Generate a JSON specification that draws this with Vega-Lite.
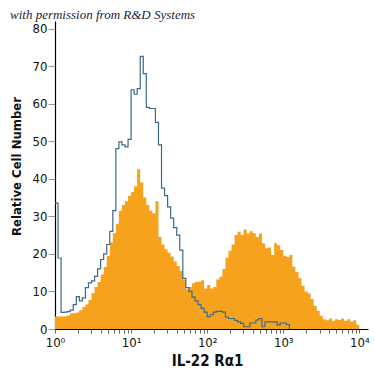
{
  "$schema": "https://vega.github.io/schema/vega-lite/v6.json",
  "width": 313,
  "height": 308,
  "autosize": "none",
  "padding": {"left": 55, "top": 21, "right": 7, "bottom": 46},
  "background": "white",
  "config": {"view": {"stroke": null}},
  "title": {
    "text": "with permission from R&D Systems",
    "anchor": "start",
    "frame": "group",
    "font": "Liberation Serif",
    "fontStyle": "italic",
    "fontWeight": "normal",
    "fontSize": 13,
    "color": "#1c1c3a",
    "dx": -45,
    "offset": -1
  },
  "datasets": {
    "orange": [
      {"x": 1, "n": 3.3}, {"x": 1.0965, "n": 3.3}, {"x": 1.2023, "n": 3.3}, {"x": 1.3183, "n": 3.4}, {"x": 1.4454, "n": 3.6},
      {"x": 1.5849, "n": 4.2}, {"x": 1.7378, "n": 4.2}, {"x": 1.9055, "n": 4.4}, {"x": 2.0893, "n": 5.0}, {"x": 2.2909, "n": 5.9},
      {"x": 2.5119, "n": 6.5}, {"x": 2.7542, "n": 7.7}, {"x": 3.02, "n": 9.5}, {"x": 3.3113, "n": 11.2}, {"x": 3.6308, "n": 12.5},
      {"x": 3.9811, "n": 14.5}, {"x": 4.3652, "n": 16.5}, {"x": 4.7863, "n": 19.5}, {"x": 5.2481, "n": 23}, {"x": 5.7544, "n": 25.5},
      {"x": 6.3096, "n": 28}, {"x": 6.9183, "n": 31.5}, {"x": 7.5858, "n": 33}, {"x": 8.3176, "n": 34}, {"x": 9.1201, "n": 35.5},
      {"x": 10, "n": 36.5}, {"x": 10.965, "n": 38}, {"x": 12.023, "n": 42.5}, {"x": 13.183, "n": 39}, {"x": 14.454, "n": 35},
      {"x": 15.849, "n": 33}, {"x": 17.378, "n": 31.5}, {"x": 19.055, "n": 30.8}, {"x": 20.893, "n": 34}, {"x": 22.909, "n": 24.5},
      {"x": 25.119, "n": 22.5}, {"x": 27.542, "n": 21.2}, {"x": 30.2, "n": 20.3}, {"x": 33.113, "n": 19.3}, {"x": 36.308, "n": 18},
      {"x": 39.811, "n": 16.8}, {"x": 43.652, "n": 15.5}, {"x": 47.863, "n": 13.2}, {"x": 52.481, "n": 10.6}, {"x": 57.544, "n": 11.2},
      {"x": 63.096, "n": 12.2}, {"x": 69.183, "n": 12.6}, {"x": 75.858, "n": 12.6}, {"x": 83.176, "n": 13}, {"x": 91.201, "n": 10.8},
      {"x": 100, "n": 11.7}, {"x": 109.65, "n": 10.8}, {"x": 120.23, "n": 11.2}, {"x": 131.83, "n": 13.2}, {"x": 144.54, "n": 13.9},
      {"x": 158.49, "n": 16}, {"x": 173.78, "n": 19}, {"x": 190.55, "n": 20.8}, {"x": 208.93, "n": 22.5}, {"x": 229.09, "n": 25},
      {"x": 251.19, "n": 25.9}, {"x": 275.42, "n": 25}, {"x": 302, "n": 26.5}, {"x": 331.13, "n": 25.4}, {"x": 363.08, "n": 26},
      {"x": 398.11, "n": 25.5}, {"x": 436.52, "n": 24.5}, {"x": 478.63, "n": 25.4}, {"x": 524.81, "n": 22.8}, {"x": 575.44, "n": 21.5},
      {"x": 630.96, "n": 21.7}, {"x": 691.83, "n": 19.7}, {"x": 758.58, "n": 22.8}, {"x": 831.76, "n": 22.3}, {"x": 912.01, "n": 21},
      {"x": 1000, "n": 19.5}, {"x": 1096.5, "n": 19.2}, {"x": 1202.3, "n": 19.7}, {"x": 1318.3, "n": 16.6}, {"x": 1445.4, "n": 15.2},
      {"x": 1584.9, "n": 13.5}, {"x": 1737.8, "n": 11.5}, {"x": 1905.5, "n": 10}, {"x": 2089.3, "n": 9.5}, {"x": 2290.9, "n": 8},
      {"x": 2511.9, "n": 6.2}, {"x": 2754.2, "n": 4.8}, {"x": 3020, "n": 3.5}, {"x": 3311.3, "n": 2.6}, {"x": 3630.8, "n": 2.3},
      {"x": 3981.1, "n": 2.8}, {"x": 4365.2, "n": 2.2}, {"x": 4786.3, "n": 2.6}, {"x": 5248.1, "n": 2.4}, {"x": 5754.4, "n": 2.8},
      {"x": 6309.6, "n": 2.2}, {"x": 6918.3, "n": 2.6}, {"x": 7585.8, "n": 2.0}, {"x": 8317.6, "n": 2.3}, {"x": 9120.1, "n": 1.1},
      {"x": 10000, "n": 0}
    ],
    "blue": [
      {"x": 1, "n": 33.5}, {"x": 1.0965, "n": 18.9}, {"x": 1.2023, "n": 4.4}, {"x": 1.3183, "n": 4.5}, {"x": 1.4454, "n": 4.6},
      {"x": 1.5849, "n": 5.0}, {"x": 1.7378, "n": 6.5}, {"x": 1.9055, "n": 8.6}, {"x": 2.0893, "n": 7.5}, {"x": 2.2909, "n": 8.3},
      {"x": 2.5119, "n": 11.0}, {"x": 2.7542, "n": 12.3}, {"x": 3.02, "n": 12.8}, {"x": 3.3113, "n": 14.0}, {"x": 3.6308, "n": 16.0},
      {"x": 3.9811, "n": 18.5}, {"x": 4.3652, "n": 20.0}, {"x": 4.7863, "n": 22.5}, {"x": 5.2481, "n": 26}, {"x": 5.7544, "n": 31.5},
      {"x": 6.3096, "n": 48}, {"x": 6.9183, "n": 49.8}, {"x": 7.5858, "n": 49}, {"x": 8.3176, "n": 48.5}, {"x": 9.1201, "n": 50.5},
      {"x": 10, "n": 63.7}, {"x": 10.965, "n": 62.5}, {"x": 12.023, "n": 64}, {"x": 13.183, "n": 72.6}, {"x": 14.454, "n": 68},
      {"x": 15.849, "n": 59}, {"x": 17.378, "n": 58.7}, {"x": 19.055, "n": 58.7}, {"x": 20.893, "n": 55}, {"x": 22.909, "n": 49},
      {"x": 25.119, "n": 37.5}, {"x": 27.542, "n": 35.5}, {"x": 30.2, "n": 32.5}, {"x": 33.113, "n": 29.5}, {"x": 36.308, "n": 27},
      {"x": 39.811, "n": 25}, {"x": 43.652, "n": 21}, {"x": 47.863, "n": 13.5}, {"x": 52.481, "n": 11}, {"x": 57.544, "n": 10},
      {"x": 63.096, "n": 8.5}, {"x": 69.183, "n": 7.5}, {"x": 75.858, "n": 6.5}, {"x": 83.176, "n": 5.5}, {"x": 91.201, "n": 4.5},
      {"x": 100, "n": 3.3}, {"x": 109.65, "n": 3.8}, {"x": 120.23, "n": 4.5}, {"x": 131.83, "n": 4.7}, {"x": 144.54, "n": 4.7},
      {"x": 158.49, "n": 4.5}, {"x": 173.78, "n": 3.2}, {"x": 190.55, "n": 2.8}, {"x": 208.93, "n": 2.8}, {"x": 229.09, "n": 2.3},
      {"x": 251.19, "n": 1.9}, {"x": 275.42, "n": 1.5}, {"x": 302, "n": 0.6}, {"x": 331.13, "n": 0.6}, {"x": 363.08, "n": 1.6},
      {"x": 398.11, "n": 1.6}, {"x": 436.52, "n": 2.4}, {"x": 478.63, "n": 2.8}, {"x": 524.81, "n": 0.6}, {"x": 575.44, "n": 1.9},
      {"x": 630.96, "n": 1.9}, {"x": 691.83, "n": 1.9}, {"x": 758.58, "n": 1.9}, {"x": 831.76, "n": 1.1}, {"x": 912.01, "n": 1.6},
      {"x": 1000, "n": 1.6}, {"x": 1096.5, "n": 1.2}, {"x": 1202.3, "n": 0}
    ]
  },
  "encoding": {
    "x": {
      "field": "x",
      "type": "quantitative",
      "scale": {"type": "log", "domain": [1, 13000], "nice": false},
      "axis": {
        "values": [1,2,3,4,5,6,7,8,9,10,20,30,40,50,60,70,80,90,100,200,300,400,500,600,700,800,900,1000,2000,3000,4000,5000,6000,7000,8000,9000,10000],
        "labelExpr": "datum.value == 1 ? '10⁰' : datum.value == 10 ? '10¹' : datum.value == 100 ? '10²' : datum.value == 1000 ? '10³' : datum.value == 10000 ? '10⁴' : ''",
        "grid": false,
        "domainColor": "#000000",
        "domainWidth": 1.2,
        "tickColor": "#666666",
        "tickSize": 4,
        "labelFont": "DejaVu Sans Condensed, Roboto, sans-serif",
        "labelFontSize": 13,
        "labelColor": "#111111",
        "labelPadding": 3,
        "labelFlush": false,
        "labelOverlap": false,
        "title": "IL-22 Rα1",
        "titleFont": "DejaVu Sans Condensed, Roboto, sans-serif",
        "titleFontSize": 15,
        "titleFontWeight": "bold",
        "titleColor": "#111111",
        "titlePadding": 4,
        "titleX": 152
      }
    },
    "y": {
      "field": "n",
      "type": "quantitative",
      "scale": {"domain": [0, 82], "nice": false},
      "axis": {
        "values": [0,10,20,30,40,50,60,70,80],
        "grid": false,
        "domainColor": "#000000",
        "domainWidth": 1.2,
        "tickColor": "#999999",
        "tickSize": 7,
        "labelFont": "DejaVu Sans Condensed, Roboto, sans-serif",
        "labelFontSize": 13,
        "labelColor": "#111111",
        "labelPadding": 1,
        "title": "Relative Cell Number",
        "titleFont": "DejaVu Sans Condensed, Roboto, sans-serif",
        "titleFontSize": 13,
        "titleFontWeight": "bold",
        "titleColor": "#111111",
        "titlePadding": 9,
        "titleY": 145
      }
    }
  },
  "layer": [
    {
      "data": {"name": "orange"},
      "mark": {"type": "area", "interpolate": "step-after", "color": "#f7a21d", "opacity": 1}
    },
    {
      "data": {"name": "blue"},
      "mark": {"type": "line", "interpolate": "step-after", "color": "#3b6a88", "strokeWidth": 1.2}
    }
  ]
}
